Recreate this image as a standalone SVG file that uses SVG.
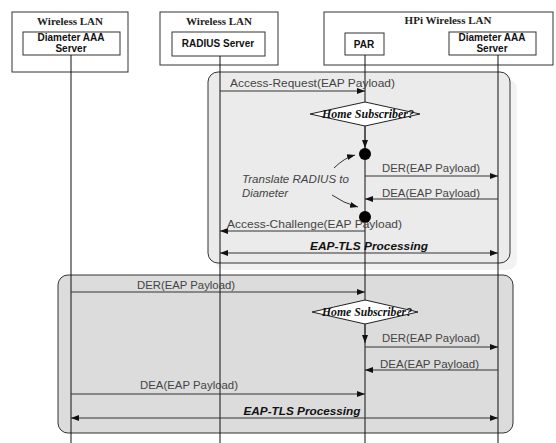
<svg xmlns="http://www.w3.org/2000/svg" width="556" height="443" viewBox="0 0 556 443">
<style>
.box{fill:#fff;stroke:#333;stroke-width:1}
.ttl{font-family:"Liberation Serif",serif;font-weight:bold;font-size:11px;fill:#222;text-anchor:middle}
.nm{font-family:"Liberation Sans",sans-serif;font-weight:bold;font-size:10px;fill:#111;text-anchor:middle}
.life{stroke:#111;stroke-width:1}
.msg{stroke:#333;stroke-width:1;fill:none}
.lbl{font-family:"Liberation Sans",sans-serif;font-size:11px;fill:#444}
.proc{font-family:"Liberation Sans",sans-serif;font-size:11px;font-weight:bold;font-style:italic;fill:#111;text-anchor:middle}
.dia{fill:#fff;stroke:#222;stroke-width:1}
.dtx{font-family:"Liberation Serif",serif;font-size:12px;font-weight:bold;font-style:italic;fill:#111;text-anchor:middle}
.note{font-family:"Liberation Sans",sans-serif;font-size:11px;font-style:italic;fill:#444}
</style>
<defs>
<marker id="ah" markerWidth="8" markerHeight="6" refX="8" refY="3" orient="auto" markerUnits="userSpaceOnUse">
<path d="M0,0 L8,3 L0,6 Z" fill="#111"/>
</marker>
<marker id="ahs" markerWidth="8" markerHeight="6" refX="0" refY="3" orient="auto" markerUnits="userSpaceOnUse">
<path d="M8,0 L0,3 L8,6 Z" fill="#111"/>
</marker>
</defs>

<g id="regions">
<rect x="215" y="79" width="302" height="191" rx="10" fill="#f2f2f2"/>
<rect x="208" y="72" width="302" height="191" rx="10" fill="#ebebeb" stroke="#333"/>
<rect x="58" y="275" width="455" height="158" rx="10" fill="#dcdcdc" stroke="#333"/>
</g>

<g id="node-wlan1">
<rect class="box" x="12" y="12" width="116" height="60"/>
<text class="ttl" x="70" y="25">Wireless LAN</text>
<rect class="box" x="23" y="32" width="97" height="23"/>
<text class="nm" x="71" y="41">Diameter AAA</text>
<text class="nm" x="71" y="52">Server</text>
</g>

<g id="node-wlan2">
<rect class="box" x="160" y="12" width="118" height="53"/>
<text class="ttl" x="219" y="25">Wireless LAN</text>
<rect class="box" x="172" y="32" width="93" height="24"/>
<text class="nm" x="218" y="47">RADIUS Server</text>
</g>

<g id="node-hpi">
<rect class="box" x="324" y="12" width="229" height="53"/>
<text class="ttl" x="448" y="24">HPi Wireless LAN</text>
<rect class="box" x="345" y="33" width="39" height="22"/>
<text class="nm" x="364" y="48">PAR</text>
<rect class="box" x="449" y="32" width="87" height="23"/>
<text class="nm" x="492" y="41">Diameter AAA</text>
<text class="nm" x="492" y="52">Server</text>
</g>

<g id="lifelines">
<line class="life" x1="71" y1="55" x2="71" y2="443"/>
<line class="life" x1="220" y1="56" x2="220" y2="443"/>
<line class="life" x1="365" y1="55" x2="365" y2="443"/>
<line class="life" x1="498" y1="55" x2="498" y2="443"/>
</g>

<g id="connectors">
<line class="msg" x1="220" y1="91" x2="365" y2="91" marker-end="url(#ah)"/>
<line class="msg" x1="365" y1="126" x2="365" y2="148" marker-end="url(#ah)"/>
<line class="msg" x1="365" y1="176" x2="498" y2="176" marker-end="url(#ah)"/>
<line class="msg" x1="498" y1="199" x2="365" y2="199" marker-end="url(#ah)"/>
<line class="msg" x1="365" y1="231" x2="220" y2="231" marker-end="url(#ah)"/>
<line class="msg" x1="220" y1="253" x2="498" y2="253" marker-start="url(#ahs)" marker-end="url(#ah)"/>
<path class="msg" d="M334,168 Q344,158 355,155" marker-end="url(#ah)"/>
<path class="msg" d="M332,195 Q343,203 358,207" marker-end="url(#ah)"/>
<line class="msg" x1="71" y1="292" x2="365" y2="292" marker-end="url(#ah)"/>
<line class="msg" x1="365" y1="324" x2="365" y2="343" marker-end="url(#ah)"/>
<line class="msg" x1="365" y1="347" x2="498" y2="347" marker-end="url(#ah)"/>
<line class="msg" x1="498" y1="370" x2="365" y2="370" marker-end="url(#ah)"/>
<line class="msg" x1="71" y1="394" x2="365" y2="394" marker-end="url(#ah)"/>
<line class="msg" x1="71" y1="418" x2="498" y2="418" marker-start="url(#ahs)" marker-end="url(#ah)"/>
</g>

<g id="decision1">
<polygon class="dia" points="310,114 365,102 420,114 365,126"/>
<text class="dtx" x="368" y="118" textLength="92" lengthAdjust="spacingAndGlyphs">Home Subscriber?</text>
</g>
<g id="decision2">
<polygon class="dia" points="312,312 365,300 418,312 365,324"/>
<text class="dtx" x="367" y="316" textLength="90" lengthAdjust="spacingAndGlyphs">Home Subscriber?</text>
</g>

<g id="points">
<circle cx="365" cy="154" r="6" fill="#000"/>
<circle cx="365" cy="217" r="6" fill="#000"/>
</g>

<g id="labels">
<text class="lbl" x="230" y="87" textLength="165" lengthAdjust="spacingAndGlyphs">Access-Request(EAP Payload)</text>
<text class="lbl" x="382" y="172" textLength="98" lengthAdjust="spacingAndGlyphs">DER(EAP Payload)</text>
<text class="lbl" x="382" y="197" textLength="98" lengthAdjust="spacingAndGlyphs">DEA(EAP Payload)</text>
<text class="lbl" x="227" y="228" textLength="175" lengthAdjust="spacingAndGlyphs">Access-Challenge(EAP Payload)</text>
<text class="proc" x="369" y="250" textLength="118" lengthAdjust="spacingAndGlyphs">EAP-TLS Processing</text>
<text class="note" x="242" y="183" textLength="107" lengthAdjust="spacingAndGlyphs">Translate RADIUS to</text>
<text class="note" x="242" y="197" textLength="46" lengthAdjust="spacingAndGlyphs">Diameter</text>
<text class="lbl" x="137" y="289" textLength="98" lengthAdjust="spacingAndGlyphs">DER(EAP Payload)</text>
<text class="lbl" x="382" y="342" textLength="98" lengthAdjust="spacingAndGlyphs">DER(EAP Payload)</text>
<text class="lbl" x="380" y="368" textLength="99" lengthAdjust="spacingAndGlyphs">DEA(EAP Payload)</text>
<text class="lbl" x="140" y="389" textLength="98" lengthAdjust="spacingAndGlyphs">DEA(EAP Payload)</text>
<text class="proc" x="302" y="415" textLength="117" lengthAdjust="spacingAndGlyphs">EAP-TLS Processing</text>
</g>
</svg>
